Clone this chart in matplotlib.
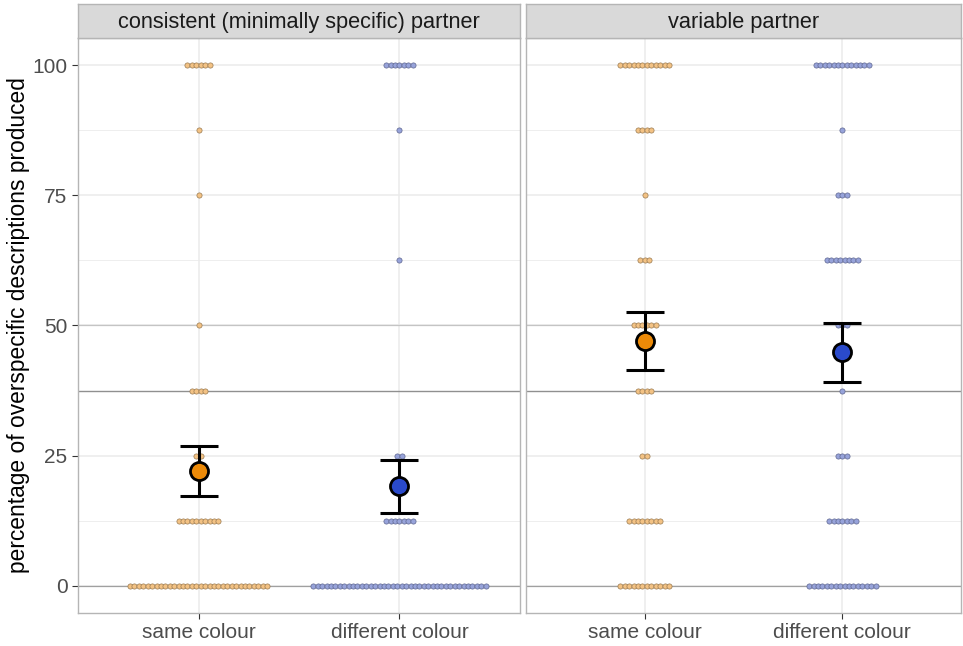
import numpy as np
import matplotlib
matplotlib.use("Agg")
import matplotlib.pyplot as plt

plt.rcParams["font.family"] = ["Liberation Sans", "DejaVu Sans"]

# response levels (percent) and how many participants sit at each level
levels = [0, 12.5, 25, 37.5, 50, 62.5, 75, 87.5, 100]
consistent_same = [32, 10, 2, 4, 1, 0, 1, 1, 6]
consistent_diff = [40, 7, 2, 0, 0, 1, 0, 1, 7]
variable_same = [12, 8, 2, 4, 6, 3, 1, 4, 12]
variable_diff = [16, 7, 3, 1, 3, 8, 3, 1, 13]

conditions = ["same colour", "different colour"]
panels = ["consistent (minimally specific) partner", "variable partner"]

# means with 95% CI
means = [[22.1, 19.2], [47.0, 44.9]]
ci_low = [[17.3, 14.0], [41.5, 39.2]]
ci_high = [[26.9, 24.2], [52.6, 50.5]]

chance = 37.5

counts = [[consistent_same, consistent_diff], [variable_same, variable_diff]]
dot_fill = ["#F3C284", "#97A3DA"]
dot_edge = ["#9A7A50", "#5E6690"]
mean_fill = ["#EC8A08", "#2A4ACB"]

W, H = 963, 646
fig = plt.figure(figsize=(W / 100, H / 100), dpi=100)

panel_x = [(78, 520), (526, 961)]
top, strip_bot, bot = 4, 38, 613

for p in range(2):
    x0, x1 = panel_x[p]
    ax = fig.add_axes([x0 / W, 1 - bot / H, (x1 - x0) / W, (bot - strip_bot) / H])
    ax.set_xlim(0.4, 2.6)
    ax.set_ylim(-5.2, 105.2)
    ax.set_facecolor("white")

    # grid
    for y in [0, 25, 50, 75, 100]:
        ax.axhline(y, color="#EBEBEB", lw=1.1, zorder=0)
    for y in [12.5, 37.5, 62.5, 87.5]:
        ax.axhline(y, color="#EBEBEB", lw=0.6, zorder=0)
    for x in [1, 2]:
        ax.axvline(x, color="#EBEBEB", lw=1.1, zorder=0)
    ax.axhline(0, color="#A0A0A0", lw=0.9, zorder=0.5)
    ax.axhline(50, color="#C4C4C4", lw=0.9, zorder=0.5)
    ax.axhline(chance, color="#909090", lw=1.0, zorder=0.5)

    # dots, stacked sideways around each category
    spacing = 4.42 / ((x1 - x0) / 2.2)
    for c in range(2):
        xs, ys = [], []
        for lev, n in zip(levels, counts[p][c]):
            offs = (np.arange(n) - (n - 1) / 2) * spacing
            xs.extend(c + 1 + offs)
            ys.extend([lev] * n)
        ax.scatter(xs, ys, s=14, facecolor=dot_fill[c], edgecolor=dot_edge[c],
                   linewidth=0.5, zorder=2)

    # means and error bars
    for c in range(2):
        m = means[p][c]
        ax.errorbar(c + 1, m, yerr=[[m - ci_low[p][c]], [ci_high[p][c] - m]],
                    fmt="none", ecolor="black", elinewidth=2.2, capsize=14,
                    capthick=2.2, zorder=3)
        ax.plot(c + 1, m, "o", ms=13, mfc=mean_fill[c], mec="black", mew=2.0,
                zorder=4)

    ax.set_xticks([1, 2])
    ax.set_xticklabels(conditions, fontsize=15, color="#4D4D4D")
    ax.set_yticks([0, 25, 50, 75, 100])
    if p == 0:
        ax.set_yticklabels(["0", "25", "50", "75", "100"], fontsize=15, color="#4D4D4D")
        ax.set_ylabel("percentage of overspecific descriptions produced", fontsize=16.4,
                      labelpad=2)
    else:
        ax.tick_params(axis="y", left=False, labelleft=False)
    ax.tick_params(axis="both", color="#333333", length=4, width=0.8)
    for s in ax.spines.values():
        s.set_color("#B5B5B5")
        s.set_linewidth(1.0)

    # facet strip
    sx = fig.add_axes([x0 / W, 1 - strip_bot / H, (x1 - x0) / W, (strip_bot - top) / H])
    sx.set_facecolor("#D9D9D9")
    sx.set_xticks([])
    sx.set_yticks([])
    for s in sx.spines.values():
        s.set_color("#B5B5B5")
        s.set_linewidth(1.0)
    sx.text(0.5, 0.45, panels[p], ha="center", va="center", fontsize=15.7,
            color="#1A1A1A", transform=sx.transAxes)

fig.savefig("out.png", dpi=100)
